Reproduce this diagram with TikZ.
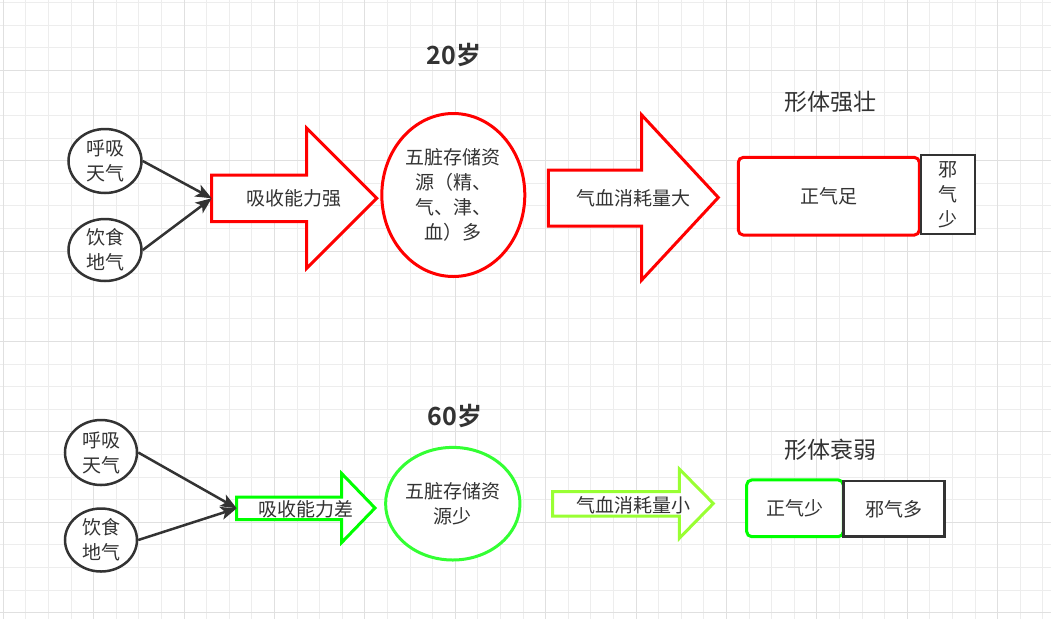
\documentclass[tikz,border=0pt]{standalone}
\usepackage{fontspec}
\setmainfont{Noto Sans CJK SC}[BoldFont={Noto Sans CJK SC Bold}]
\usetikzlibrary{arrows.meta,shapes.geometric}

\definecolor{ink}{HTML}{333333}
\definecolor{gridminor}{HTML}{EDEDED}
\definecolor{gridmajor}{HTML}{E0E0E0}
\definecolor{redline}{HTML}{FF0000}
\definecolor{greenA}{HTML}{00FF00}
\definecolor{greenB}{HTML}{33FF33}
\definecolor{greenC}{HTML}{99FF33}

\tikzset{
  txt/.style={text=ink, font=\fontsize{19}{25}\selectfont, align=center, inner sep=0pt},
  titletxt/.style={text=ink, font=\fontsize{23}{28}\selectfont, inner sep=0pt},
  agetxt/.style={text=ink, font=\bfseries\fontsize{25}{30}\selectfont, inner sep=0pt},
  src/.style={ellipse, draw=ink, line width=2.5pt, fill=white, txt},
  conn/.style={draw=ink, line width=2.5pt, -{Stealth[length=16pt,width=13pt,inset=4pt]}},
  blockarrow/.style={line width=3pt, fill=white, line join=miter},
  store/.style={ellipse, line width=3pt, fill=white, txt},
  qibox/.style={rectangle, rounded corners=5pt, line width=3pt, fill=white, txt},
  xiebox/.style={rectangle, draw=ink, line width=2.7pt, fill=white, txt},
}

\begin{document}
\begin{tikzpicture}[x=1pt, y=-1pt]
  \useasboundingbox (0,0) rectangle (1051,619);
  \fill[white] (0,0) rectangle (1051,619);

  % background grid
  \foreach \i in {0,...,46}
    \draw[gridminor, line width=1pt] ({3.3+22.6*\i},0) -- ({3.3+22.6*\i},619);
  \foreach \i in {0,...,27}
    \draw[gridminor, line width=1pt] (0,{2.5+22.6*\i}) -- (1051,{2.5+22.6*\i});
  \foreach \i in {0,...,11}
    \draw[gridmajor, line width=1pt] ({3.3+90.4*\i},0) -- ({3.3+90.4*\i},619);
  \foreach \i in {0,...,6}
    \draw[gridmajor, line width=1pt] (0,{70.3+90.4*\i}) -- (1051,{70.3+90.4*\i});

  % ---------- age 20 ----------
  \node[agetxt] (age20) at (454,55) {20岁};

  \node[src, minimum width=73pt, minimum height=64pt] (air1) at (105,161) {呼吸\\天气};
  \node[src, minimum width=73pt, minimum height=62pt] (food1) at (105,250) {饮食\\地气};

  \draw[blockarrow, draw=redline]
    (211.7,175) -- (306.7,175) -- (306.7,128.3) -- (376.7,198.3)
    -- (306.7,268.3) -- (306.7,221.7) -- (211.7,221.7) -- cycle;
  \coordinate (absorb1) at (211.7,198.3);
  \node[txt] (absorbtxt1) at (294,198.3) {吸收能力强};

  \draw[conn] (air1.east) -- (absorb1);
  \draw[conn] (food1.east) -- (absorb1);

  \node[store, draw=redline, minimum width=143pt, minimum height=163pt] (organs1) at (453.3,195)
    {五脏存储资\\源（精、\\气、津、\\血）多};

  \draw[blockarrow, draw=redline]
    (548.3,170) -- (641.7,170) -- (641.7,115) -- (718.3,197.5)
    -- (641.7,280) -- (641.7,226) -- (548.3,226) -- cycle;
  \node[txt] (consume1) at (633,198) {气血消耗量大};

  \node[titletxt] (body1) at (830,102) {形体强壮};
  \node[qibox, draw=redline, minimum width=181pt, minimum height=77.7pt] (zheng1) at (828.8,196.2) {正气足};
  \node[xiebox, minimum width=54pt, minimum height=79pt] (xie1) at (948,194.5) {邪\\气\\少};

  % ---------- age 60 ----------
  \node[agetxt] (age60) at (455,416) {60岁};

  \node[src, minimum width=72pt, minimum height=65pt] (air2) at (101,452.5) {呼吸\\天气};
  \node[src, minimum width=72pt, minimum height=63pt] (food2) at (101,540) {饮食\\地气};

  \draw[blockarrow, draw=greenA]
    (236.7,497) -- (341.7,497) -- (341.7,473.5) -- (375,508)
    -- (341.7,542.5) -- (341.7,519.5) -- (236.7,519.5) -- cycle;
  \coordinate (absorb2) at (236.7,508.3);
  \node[txt] (absorbtxt2) at (306,509) {吸收能力差};

  \draw[conn] (air2.east) -- (absorb2);
  \draw[conn] (food2.east) -- (absorb2);

  \node[store, draw=greenB, minimum width=131pt, minimum height=112.6pt] (organs2) at (452.8,503.7)
    {五脏存储资\\源少};

  \draw[blockarrow, draw=greenC]
    (552.7,491.7) -- (679.3,491.7) -- (679.3,469) -- (713.3,503.5)
    -- (679.3,538.3) -- (679.3,516) -- (552.7,516) -- cycle;
  \node[txt] (consume2) at (633,505) {气血消耗量小};

  \node[titletxt] (body2) at (830,450) {形体衰弱};
  \node[qibox, draw=greenA, minimum width=96.6pt, minimum height=56.7pt] (zheng2) at (795,508.3) {正气少};
  \node[xiebox, minimum width=101pt, minimum height=55.7pt] (xie2) at (893.8,508.8) {邪气多};
\end{tikzpicture}
\end{document}
